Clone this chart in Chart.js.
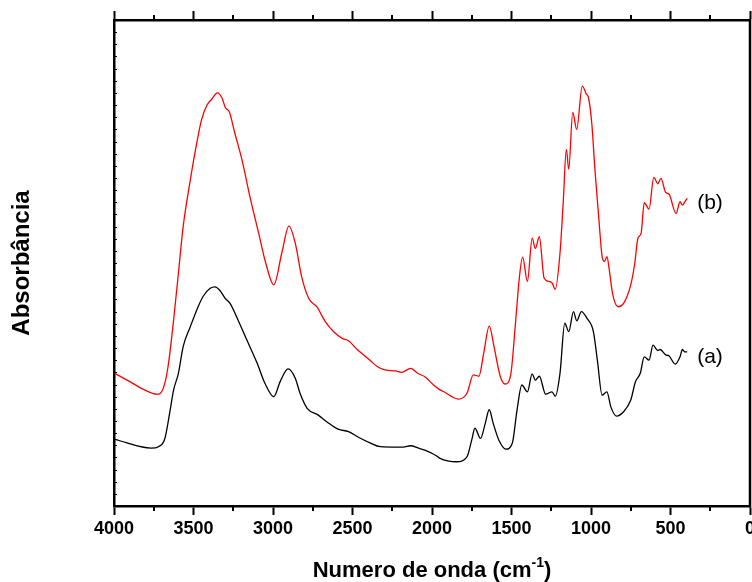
<!DOCTYPE html>
<html>
<head>
<meta charset="utf-8">
<title>FTIR</title>
<script src="https://cdn.jsdelivr.net/npm/chart.js@4.4.1/dist/chart.umd.min.js"></script>
<style>
  html, body { margin: 0; padding: 0; background: #fff; }
  #wrap { position: relative; width: 752px; height: 582px; }
</style>
</head>
<body>
<div id="wrap"><canvas id="ftirChart" width="752" height="582"></canvas></div>
<script>
// spectrum (a)
const wavenumbersA = [3995, 3765, 3720, 3680, 3650, 3625, 3595, 3565, 3520, 3480, 3440, 3395, 3365, 3335, 3300, 3270, 3230, 3165, 3100, 3050,
  2995, 2955, 2905, 2860, 2830, 2785, 2715, 2660, 2590, 2525, 2460, 2390, 2325, 2220, 2180, 2135, 2085, 2045, 1970, 1950,
  1845, 1780, 1750, 1730, 1695, 1665, 1640, 1615, 1580, 1535, 1495, 1465, 1435, 1400, 1370, 1350, 1325, 1285, 1245, 1225,
  1195, 1165, 1140, 1110, 1090, 1060, 1025, 985, 960, 930, 900, 875, 840, 795, 750, 720, 690, 665, 635, 610,
  580, 565, 530, 510, 470, 440, 425, 410, 395];
const absorbanceA = [0.137, 0.119, 0.122, 0.139, 0.191, 0.239, 0.273, 0.328, 0.369, 0.403, 0.431, 0.448, 0.451, 0.444, 0.427, 0.417, 0.390, 0.342, 0.294, 0.252,
  0.225, 0.256, 0.282, 0.263, 0.232, 0.201, 0.187, 0.173, 0.158, 0.153, 0.141, 0.130, 0.122, 0.121, 0.121, 0.124, 0.119, 0.115, 0.103, 0.098,
  0.091, 0.101, 0.136, 0.160, 0.139, 0.170, 0.198, 0.170, 0.136, 0.117, 0.129, 0.198, 0.249, 0.235, 0.272, 0.259, 0.267, 0.230, 0.235, 0.226,
  0.273, 0.376, 0.359, 0.400, 0.381, 0.400, 0.386, 0.359, 0.300, 0.228, 0.235, 0.204, 0.185, 0.194, 0.218, 0.256, 0.273, 0.307, 0.300, 0.331,
  0.320, 0.322, 0.311, 0.309, 0.292, 0.307, 0.322, 0.317, 0.317];

// spectrum (b)
const wavenumbersB = [3995, 3900, 3815, 3730, 3690, 3660, 3625, 3595, 3565, 3520, 3480, 3450, 3415, 3385, 3350, 3320, 3300, 3275, 3240, 3195,
  3145, 3090, 3045, 2995, 2945, 2900, 2860, 2820, 2775, 2725, 2670, 2620, 2565, 2525, 2470, 2390, 2345, 2295, 2230, 2190,
  2135, 2085, 2045, 1990, 1950, 1925, 1835, 1780, 1740, 1705, 1675, 1640, 1610, 1570, 1540, 1505, 1475, 1450, 1430, 1400,
  1370, 1350, 1325, 1295, 1265, 1245, 1225, 1195, 1175, 1155, 1140, 1115, 1090, 1055, 1030, 1015, 995, 975, 950, 930,
  915, 900, 885, 865, 830, 795, 750, 725, 705, 685, 665, 635, 605, 580, 560, 530, 510, 465, 440, 425, 410, 395];
const absorbanceB = [0.273, 0.256, 0.240, 0.230, 0.242, 0.287, 0.383, 0.479, 0.575, 0.671, 0.746, 0.794, 0.825, 0.837, 0.850, 0.839, 0.820, 0.811, 0.767, 0.712,
  0.636, 0.561, 0.499, 0.455, 0.520, 0.576, 0.541, 0.472, 0.427, 0.410, 0.379, 0.359, 0.345, 0.340, 0.322, 0.300, 0.287, 0.280, 0.278, 0.275,
  0.283, 0.272, 0.266, 0.249, 0.239, 0.235, 0.220, 0.232, 0.270, 0.267, 0.314, 0.370, 0.328, 0.266, 0.251, 0.270, 0.376, 0.472, 0.512, 0.462,
  0.551, 0.530, 0.554, 0.469, 0.462, 0.459, 0.446, 0.520, 0.623, 0.734, 0.693, 0.810, 0.775, 0.864, 0.848, 0.839, 0.787, 0.691, 0.588, 0.513,
  0.503, 0.513, 0.486, 0.438, 0.410, 0.417, 0.455, 0.499, 0.551, 0.561, 0.624, 0.611, 0.676, 0.663, 0.674, 0.645, 0.642, 0.602, 0.626, 0.619, 0.626, 0.633];

const seriesLabels = ["(a)", "(b)"];
const xMajorTicks = [4000, 3500, 3000, 2500, 2000, 1500, 1000, 500, 0];
const xMinorTicks = [3750, 3250, 2750, 2250, 1750, 1250, 750, 250];

const FONT = "'Liberation Sans', Arial, sans-serif";

function toPoints(xs, ys) {
  return xs.map((x, i) => ({ x, y: ys[i] }));
}

function setMajorTicks(scale) {
  scale.ticks = xMajorTicks.map((value) => ({ value }));
}

// frame, minor ticks, axis titles and curve labels
const framePlugin = {
  id: "frame",
  afterDraw(chart) {
    const { ctx, chartArea: area, scales } = chart;
    const x = scales.x;
    const y = scales.y;
    ctx.save();
    ctx.strokeStyle = "#000";

    // right edge
    ctx.lineWidth = 2.5;
    ctx.beginPath();
    ctx.moveTo(area.right, area.top - 1.25);
    ctx.lineTo(area.right, area.bottom + 1.25);
    ctx.stroke();

    // minor ticks, outward on top and bottom
    ctx.lineWidth = 2;
    xMinorTicks.forEach((v) => {
      const px = Math.round(x.getPixelForValue(v));
      ctx.beginPath();
      ctx.moveTo(px, area.bottom);
      ctx.lineTo(px, area.bottom + 5);
      ctx.moveTo(px, area.top);
      ctx.lineTo(px, area.top - 5);
      ctx.stroke();
    });

    // small inward notches on the left edge
    ctx.lineWidth = 1;
    y.ticks.forEach((t) => {
      const py = Math.round(y.getPixelForValue(t.value)) + 0.5;
      ctx.beginPath();
      ctx.moveTo(area.left, py);
      ctx.lineTo(area.left + 3, py);
      ctx.stroke();
    });

    ctx.fillStyle = "#000";

    // x title with superscript
    const main = "Numero de onda (cm";
    const sup = "-1";
    const close = ")";
    ctx.font = "bold 22px " + FONT;
    const wMain = ctx.measureText(main).width;
    const wClose = ctx.measureText(close).width;
    ctx.font = "bold 14px " + FONT;
    const wSup = ctx.measureText(sup).width;
    const cx = (area.left + area.right) / 2;
    let tx = cx - (wMain + wSup + wClose) / 2;
    const base = 577;
    ctx.textBaseline = "alphabetic";
    ctx.textAlign = "left";
    ctx.font = "bold 22px " + FONT;
    ctx.fillText(main, tx, base);
    tx += wMain;
    ctx.font = "bold 14px " + FONT;
    ctx.fillText(sup, tx, base - 10);
    tx += wSup;
    ctx.font = "bold 22px " + FONT;
    ctx.fillText(close, tx, base);

    // y title
    ctx.save();
    ctx.translate(22, (area.top + area.bottom) / 2);
    ctx.rotate(-Math.PI / 2);
    ctx.textAlign = "center";
    ctx.textBaseline = "middle";
    ctx.font = "bold 24px " + FONT;
    ctx.fillText("Absorbância", 0, 0);
    ctx.restore();

    // curve labels next to the last point of each spectrum
    ctx.font = "21px " + FONT;
    ctx.textAlign = "left";
    ctx.textBaseline = "middle";
    chart.data.datasets.forEach((ds, i) => {
      const last = ds.data[ds.data.length - 1];
      const px = x.getPixelForValue(last.x) + 10;
      const py = y.getPixelForValue(last.y) + 5;
      ctx.fillText(seriesLabels[i], px, py);
    });

    ctx.restore();
  }
};

const axisGrid = {
  drawOnChartArea: false,
  drawTicks: true,
  tickLength: 9,
  tickWidth: 2,
  tickColor: "#000"
};
const axisBorder = { display: true, color: "#000", width: 2.5 };

function fitX(height) {
  return (s) => {
    s.height = height;
    s.paddingLeft = 0;
    s.paddingRight = 0;
  };
}

new Chart(document.getElementById("ftirChart"), {
  type: "line",
  data: {
    datasets: [
      {
        label: seriesLabels[0],
        data: toPoints(wavenumbersA, absorbanceA),
        borderColor: "#000000",
        borderWidth: 1.3,
        pointRadius: 0,
        cubicInterpolationMode: "monotone"
      },
      {
        label: seriesLabels[1],
        data: toPoints(wavenumbersB, absorbanceB),
        borderColor: "#ff0000",
        borderWidth: 1.3,
        pointRadius: 0,
        cubicInterpolationMode: "monotone"
      }
    ]
  },
  options: {
    responsive: false,
    animation: false,
    layout: { padding: { top: 0, right: 2, bottom: 0, left: 0 } },
    plugins: {
      legend: { display: false },
      tooltip: { enabled: false }
    },
    scales: {
      x: {
        type: "linear",
        position: "bottom",
        reverse: true,
        min: 0,
        max: 4000,
        afterBuildTicks: setMajorTicks,
        ticks: {
          color: "#000",
          font: { family: FONT, size: 18, weight: "bold" },
          padding: 3,
          maxRotation: 0,
          autoSkip: false,
          callback: (v) => String(v)
        },
        grid: axisGrid,
        border: axisBorder,
        afterFit: fitX(76)
      },
      xTop: {
        type: "linear",
        position: "top",
        reverse: true,
        min: 0,
        max: 4000,
        afterBuildTicks: setMajorTicks,
        ticks: { display: false },
        grid: axisGrid,
        border: axisBorder,
        afterFit: fitX(20)
      },
      y: {
        min: 0,
        max: 1,
        ticks: { display: false, stepSize: 0.025 },
        grid: { display: false },
        border: axisBorder,
        afterFit: (s) => { s.width = 114; }
      }
    }
  },
  plugins: [framePlugin]
});
</script>
</body>
</html>
